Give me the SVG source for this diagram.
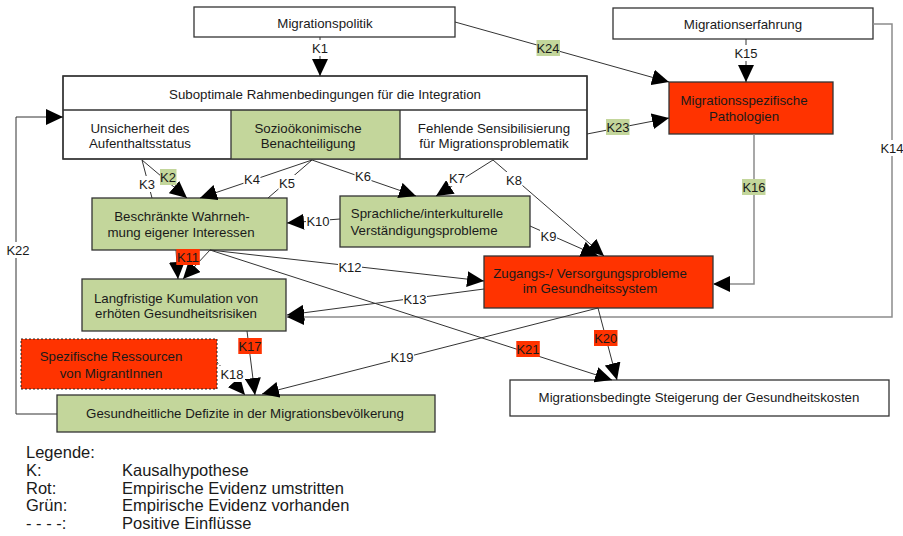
<svg xmlns="http://www.w3.org/2000/svg" width="903" height="536" viewBox="0 0 903 536">
<defs>
<marker id="ah" markerUnits="userSpaceOnUse" markerWidth="17" markerHeight="16" refX="17" refY="8" orient="auto"><path d="M0,0 L17,8 L0,16 z" fill="#000"/></marker>
<style>
.n{stroke:#333;stroke-width:1.3}
.w{fill:#fff}
.g{fill:#c3d69b}
.r{fill:#ff3300}
.t{font-family:"Liberation Sans",Arial,sans-serif;font-size:13.3px;fill:#1a1a1a;text-anchor:middle}
.c{fill:none;stroke:#333;stroke-width:1}
.a{marker-end:url(#ah)}
.cg{fill:none;stroke:#8c8c8c;stroke-width:1.5}
.d{stroke-dasharray:2,2}
.lb{font-family:"Liberation Sans",Arial,sans-serif;font-size:13px;fill:#1a1a1a;text-anchor:middle}
.lg{font-family:"Liberation Sans",Arial,sans-serif;font-size:16.5px;fill:#1a1a1a}
</style>
</defs>
<rect width="903" height="536" fill="#fff"/>

<g id="migrationspolitik"><rect class="n w" x="194" y="7" width="261" height="30"/><text class="t" x="325" y="28">Migrationspolitik</text></g>
<g id="migrationserfahrung"><rect class="n w" x="613" y="8" width="260" height="31"/><text class="t" x="743" y="29">Migrationserfahrung</text></g>
<g id="pathologien"><rect class="n r" x="669" y="82" width="164" height="52"/><text class="t" x="744" y="105">Migrationsspezifische</text><text class="t" x="744" y="121">Pathologien</text></g>
<g id="rahmenbedingungen">
<rect class="n w" x="63" y="76" width="524" height="83"/>
<rect class="g" x="231" y="110" width="169" height="49"/>
<path class="n" d="M63,110 H587 M231,110 V159 M400,110 V159" fill="none"/>
<rect class="n" x="63" y="76" width="524" height="83" fill="none"/>
<text class="t" x="325" y="99">Suboptimale Rahmenbedingungen für die Integration</text>
<text class="t" x="140" y="133">Unsicherheit des</text><text class="t" x="140" y="148">Aufenthaltsstatus</text>
<text class="t" x="308" y="133">Sozioökonimische</text><text class="t" x="308" y="148">Benachteiligung</text>
<text class="t" x="494" y="133">Fehlende Sensibilisierung</text><text class="t" x="494" y="148">für Migrationsproblematik</text>
</g>
<g id="wahrnehmung"><rect class="n g" x="92" y="198" width="195" height="52"/><text class="t" x="182" y="221">Beschränkte Wahrneh-</text><text class="t" x="181" y="237">mung eigener Interessen</text></g>
<g id="verstaendigung"><rect class="n g" x="340" y="196" width="190" height="51"/><text class="t" x="427" y="218">Sprachliche/interkulturelle</text><text class="t" x="424" y="235">Verständigungsprobleme</text></g>
<g id="zugang"><rect class="n r" x="484" y="256" width="229" height="52"/><text class="t" x="590" y="278">Zugangs-/ Versorgungsprobleme</text><text class="t" x="590" y="293">im Gesundheitssystem</text></g>
<g id="kumulation"><rect class="n g" x="82" y="279" width="204" height="52"/><text class="t" x="176" y="303">Langfristige Kumulation von</text><text class="t" x="176" y="318">erhöten Gesundheitsrisiken</text></g>
<g id="ressourcen"><rect class="r" x="21" y="339" width="196" height="50" stroke="#222" stroke-width="1" stroke-dasharray="2,2"/><text class="t" x="111" y="361">Spezifische Ressourcen</text><text class="t" x="111" y="378">von MigrantInnen</text></g>
<g id="defizite"><rect class="n g" x="57" y="395" width="378" height="37"/><text class="t" x="245" y="418">Gesundheitliche Defizite in der Migrationsbevölkerung</text></g>
<g id="kosten"><rect class="n w" x="510" y="380" width="379" height="36"/><text class="t" x="699" y="402">Migrationsbedingte Steigerung der Gesundheitskosten</text></g>

<g id="connectors">
<path class="c a" d="M320,37 V76"/>
<path class="c a" d="M455,22 L669,82"/>
<path class="c a" d="M746,39 V82"/>
<path class="c a" d="M587,134 L669,118"/>
<path class="cg a" d="M754,134 V284 H713"/>
<path class="cg a" d="M873,24 H892 V317 H287"/>
<path class="c a" d="M57,414 H16 V117 H63"/>
<path class="c a" d="M142,160 L187,198"/>
<path class="c" d="M142,160 L152,198"/>
<path class="c a" d="M312,160 L200,198"/>
<path class="c" d="M312,160 L268,198"/>
<path class="c a" d="M312,160 L416,196"/>
<path class="c a" d="M493,160 L436,196"/>
<path class="c a" d="M493,160 L604,256"/>
<path class="c a" d="M530,226 L598,256"/>
<path class="c a" d="M340,219 L287,223"/>
<path class="c a" d="M176,250 L178,279"/>
<path class="c a" d="M210,250 L183,279"/>
<path class="c a" d="M210,250 L484,281"/>
<path class="c a" d="M484,289 L287,315"/>
<path class="c a" d="M247,331 L255,395"/>
<path class="c a d" d="M217,362 L245,395"/>
<path class="c a" d="M598,308 L262,394"/>
<path class="c a" d="M598,308 L617,380"/>
<path class="c a" d="M210,250 L612,380"/>
</g>

<g id="labels">
<rect x="311.5" y="40" width="17" height="16" fill="#fff"/><text class="lb" x="320" y="52.6">K1</text>
<rect x="536.5" y="40" width="23.5" height="16" fill="#c3d69b"/><text class="lb" x="548" y="52.6">K24</text>
<rect x="734" y="45" width="24" height="16" fill="#fff"/><text class="lb" x="746" y="57.6">K15</text>
<rect x="606" y="119" width="23.5" height="16" fill="#c3d69b"/><text class="lb" x="618" y="131.6">K23</text>
<rect x="742" y="179" width="23.5" height="16" fill="#c3d69b"/><text class="lb" x="754" y="191.6">K16</text>
<rect x="880" y="140" width="24" height="16" fill="#fff"/><text class="lb" x="892" y="152.6">K14</text>
<rect x="160" y="169" width="16.5" height="16" fill="#c3d69b"/><text class="lb" x="168" y="181.6">K2</text>
<rect x="138.5" y="176" width="17" height="16" fill="#fff"/><text class="lb" x="147" y="188.6">K3</text>
<rect x="243.5" y="171" width="17" height="16" fill="#fff"/><text class="lb" x="252" y="183.6">K4</text>
<rect x="278.5" y="175" width="17" height="16" fill="#fff"/><text class="lb" x="287" y="187.6">K5</text>
<rect x="354.5" y="168" width="17" height="16" fill="#fff"/><text class="lb" x="363" y="180.6">K6</text>
<rect x="448.5" y="170" width="17" height="16" fill="#fff"/><text class="lb" x="457" y="182.6">K7</text>
<rect x="505.5" y="172" width="17" height="16" fill="#fff"/><text class="lb" x="514" y="184.6">K8</text>
<rect x="540" y="228" width="17" height="16" fill="#fff"/><text class="lb" x="548.5" y="240.6">K9</text>
<rect x="306" y="213" width="24" height="16" fill="#fff"/><text class="lb" x="318" y="225.6">K10</text>
<rect x="176.3" y="249" width="23.5" height="16" fill="#ff3300"/><text class="lb" x="188" y="261.6">K11</text>
<rect x="338" y="259" width="24" height="16" fill="#fff"/><text class="lb" x="350" y="271.6">K12</text>
<rect x="403" y="291" width="24" height="16" fill="#fff"/><text class="lb" x="415" y="303.6">K13</text>
<rect x="238.3" y="338" width="23.5" height="16" fill="#ff3300"/><text class="lb" x="250" y="350.6">K17</text>
<rect x="220" y="366" width="24" height="16" fill="#fff"/><text class="lb" x="232" y="378.6">K18</text>
<rect x="390" y="349" width="24" height="16" fill="#fff"/><text class="lb" x="402" y="361.6">K19</text>
<rect x="594" y="330" width="23.5" height="16" fill="#ff3300"/><text class="lb" x="605.7" y="342.6">K20</text>
<rect x="516.3" y="341" width="23.5" height="16" fill="#ff3300"/><text class="lb" x="528" y="353.6">K21</text>
<rect x="6" y="242" width="24" height="16" fill="#fff"/><text class="lb" x="18" y="254.6">K22</text>
</g>

<g id="legende">
<text class="lg" x="26" y="458">Legende:</text>
<text class="lg" x="26" y="476">K:</text><text class="lg" x="122" y="476">Kausalhypothese</text>
<text class="lg" x="26" y="494">Rot:</text><text class="lg" x="122" y="494">Empirische Evidenz umstritten</text>
<text class="lg" x="26" y="511">Grün:</text><text class="lg" x="122" y="511">Empirische Evidenz vorhanden</text>
<text class="lg" x="26" y="529">- - - -:</text><text class="lg" x="122" y="529">Positive Einflüsse</text>
</g>
</svg>
